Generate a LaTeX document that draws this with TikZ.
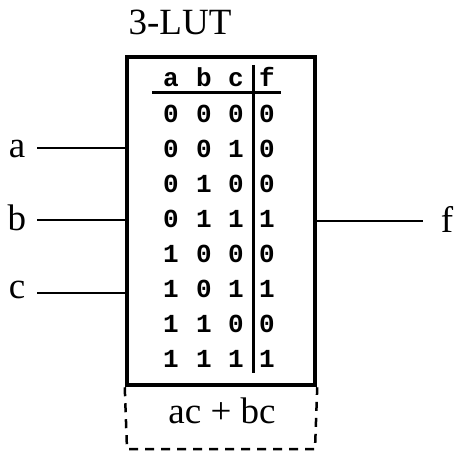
\documentclass[tikz,border=0pt]{standalone}
\usepackage{fontspec}
\setmainfont{Liberation Serif}
\newfontfamily\tblfont{Liberation Mono}
\begin{document}
\begin{tikzpicture}[x=1pt,y=-1pt,
  lbl/.style={font=\fontsize{37}{40}\selectfont, inner sep=0pt, anchor=base},
  cell/.style={font=\tblfont\bfseries\fontsize{26}{28}\selectfont, inner sep=0pt, anchor=base},
  wire/.style={line width=2pt},
  rule/.style={line width=3pt},
  lutbox/.style={draw, line width=4.5pt, minimum width=188pt, minimum height=328pt, inner sep=0pt},
  fnbox/.style={line width=2.5pt, dash pattern=on 9pt off 7pt}]
\useasboundingbox (0,0) rectangle (458,452);

% LUT body
\node[lutbox] (lut) at (221,221) {};
\node[lbl] (title) at (180,35) {3-LUT};

% function box below the LUT
\coordinate (fbl) at (127,449);
\coordinate (fbr) at (315,449);
\draw[fnbox] (lut.south west) -- (fbl) -- (fbr) -- (lut.south east);
\node[lbl] (fn) at (222,423) {ac + bc};

% inputs and output
\node[lbl] (ina) at (17,157) {a};
\node[lbl] (inb) at (17,230) {b};
\node[lbl] (inc) at (17,298) {c};
\node[lbl] (outf) at (447,232) {f};
\coordinate (ta) at (37,148);
\coordinate (tb) at (37,220);
\coordinate (tc) at (37,293);
\coordinate (tf) at (423,221);
\draw[wire] (ta) -- (ta -| lut.west);
\draw[wire] (tb) -- (tb -| lut.west);
\draw[wire] (tc) -- (tc -| lut.west);
\draw[wire] (tf -| lut.east) -- (tf);

% truth table
\node[cell] (ha) at (171,87) {a};
\node[cell] (hb) at (204,87) {b};
\node[cell] (hc) at (236,87) {c};
\node[cell] (hf) at (267,87) {f};
\coordinate (ul) at (152,93);
\coordinate (ur) at (281,93);
\draw[rule] (ul) -- (ur);
\coordinate (vt) at (253,65);
\coordinate (vb) at (253,373);
\draw[rule] (vt) -- (vb);
\foreach \a/\b/\c/\f [count=\i from 0] in
  {0/0/0/0,0/0/1/0,0/1/0/0,0/1/1/1,1/0/0/0,1/0/1/1,1/1/0/0,1/1/1/1}{
  \pgfmathsetmacro{\yy}{122+35*\i}
  \node[cell] (ra\i) at (171,\yy) {\a};
  \node[cell] (rb\i) at (204,\yy) {\b};
  \node[cell] (rc\i) at (236,\yy) {\c};
  \node[cell] (rf\i) at (267,\yy) {\f};
}
\end{tikzpicture}
\end{document}
